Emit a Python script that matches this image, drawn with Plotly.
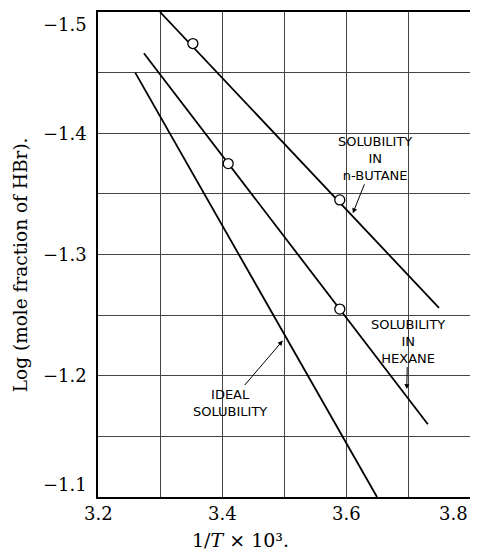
import plotly.graph_objects as go

# Lines (end points)
butane_line_x = [3.30, 3.75]
butane_line_y = [-1.500, -1.256]
hexane_line_x = [3.274, 3.732]
hexane_line_y = [-1.466, -1.160]
ideal_line_x = [3.26, 3.65]
ideal_line_y = [-1.450, -1.100]

# Measured points (open circles)
butane_pts_x = [3.353, 3.590]
butane_pts_y = [-1.474, -1.345]
hexane_pts_x = [3.410, 3.590]
hexane_pts_y = [-1.375, -1.255]

x_ticks = [3.2, 3.4, 3.6, 3.8]
x_ticktext = ["3.2", "3.4", "3.6", "3.8"]
y_ticks = [-1.5, -1.4, -1.3, -1.2, -1.1]
y_ticktext = ["\u22121.5", "\u22121.4", "\u22121.3", "\u22121.2", "\u22121.1"]

line_style = dict(color="black", width=1.8)
fig = go.Figure()
for lx, ly in [(butane_line_x, butane_line_y), (hexane_line_x, hexane_line_y), (ideal_line_x, ideal_line_y)]:
    fig.add_trace(go.Scatter(x=lx, y=ly, mode="lines", line=line_style, showlegend=False, hoverinfo="skip"))
for px, py in [(butane_pts_x, butane_pts_y), (hexane_pts_x, hexane_pts_y)]:
    fig.add_trace(go.Scatter(x=px, y=py, mode="markers",
                             marker=dict(symbol="circle", size=10, color="white",
                                         line=dict(color="black", width=1.3)),
                             showlegend=False))

serif = "DejaVu Serif, Liberation Serif, serif"
sans = "DejaVu Sans, sans-serif"
lab_font = dict(family=sans, size=13, color="black")
arrow_kw = dict(showarrow=True, arrowhead=2, arrowsize=1, arrowwidth=1, arrowcolor="black",
                font=lab_font, align="center")

fig.add_annotation(x=3.611, y=-1.334, text="SOLUBILITY<br>IN<br>n-BUTANE", ax=22, ay=-55, **arrow_kw)
fig.add_annotation(x=3.698, y=-1.189, text="SOLUBILITY<br>IN<br>HEXANE", ax=1, ay=-48, **arrow_kw)
fig.add_annotation(x=3.498, y=-1.229, text="IDEAL<br>SOLUBILITY", ax=-53, ay=62, **arrow_kw)

tick_font = dict(family=serif, size=18, color="black")
n = len(x_ticks)
for i, (v, t) in enumerate(zip(x_ticks, x_ticktext)):
    anchor = "right" if i == n - 1 else "center"
    fig.add_annotation(x=v, xref="x", y=0, yref="paper", text=t, showarrow=False,
                       xanchor=anchor, yanchor="middle", yshift=-16, font=tick_font)
m = len(y_ticks)
for i, (v, t) in enumerate(zip(y_ticks, y_ticktext)):
    ya = "top" if i == 0 else ("bottom" if i == m - 1 else "middle")
    fig.add_annotation(x=0, xref="paper", y=v, yref="y", text=t, showarrow=False,
                       xanchor="right", yanchor=ya, xshift=-9, font=tick_font)

# Axis titles
fig.add_annotation(x=0.384, y=-0.0887, xref="paper", yref="paper",
                   xanchor="center", yanchor="middle",
                   text="1/<i>T</i> \u00d7 10\u00b3.", showarrow=False,
                   font=dict(family=serif, size=19, color="black"))
fig.add_annotation(x=-0.2097, y=0.48, xref="paper", yref="paper", textangle=-90,
                   xanchor="center", yanchor="middle",
                   text="Log (mole fraction of HBr).", showarrow=False,
                   font=dict(family=serif, size=18.5, color="black"))

grid_col = "#444444"
# The page body adds an 8px margin, so the figure is sized to fit the 478x558 window.
fig.update_layout(
    width=470, height=550,
    margin=dict(l=90, r=8, t=4, b=61),
    paper_bgcolor="white", plot_bgcolor="white",
    font=dict(family=serif, size=17, color="black"),
    xaxis=dict(range=[3.2, 3.8], tickvals=x_ticks, showticklabels=False, automargin=False,
               showgrid=True, gridcolor=grid_col, gridwidth=1,
               minor=dict(dtick=0.1, tick0=3.2, showgrid=True, gridcolor=grid_col, gridwidth=1),
               showline=True, linecolor="black", linewidth=1.5, mirror=True,
               ticks="", zeroline=False),
    yaxis=dict(range=[-1.1, -1.5], tickvals=y_ticks, showticklabels=False, automargin=False,
               showgrid=True, gridcolor=grid_col, gridwidth=1,
               minor=dict(dtick=0.05, tick0=-1.5, showgrid=True, gridcolor=grid_col, gridwidth=1),
               showline=True, linecolor="black", linewidth=1.5, mirror=True,
               ticks="", zeroline=False),
)
fig.write_html("out.html")
